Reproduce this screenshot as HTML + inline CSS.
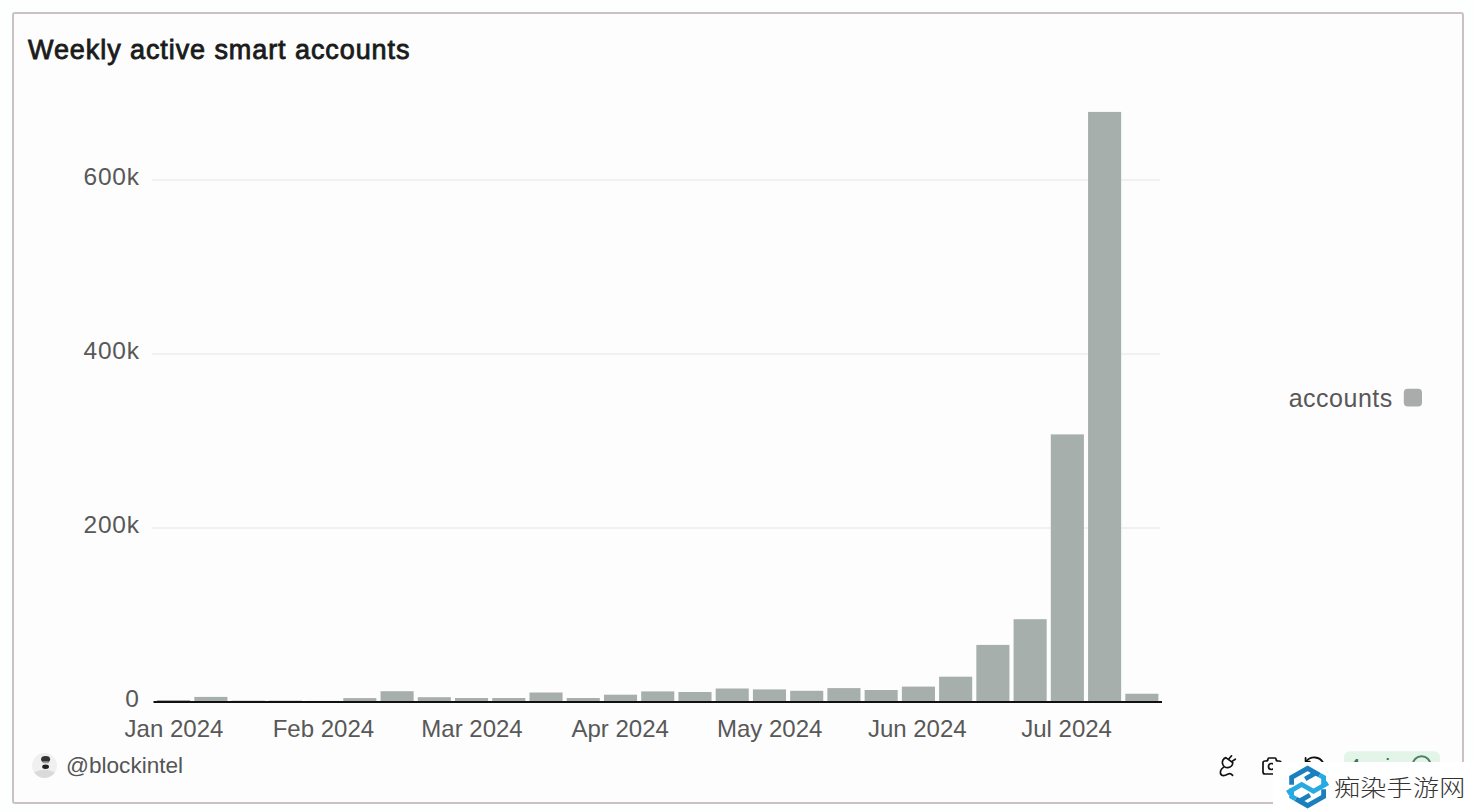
<!DOCTYPE html>
<html><head><meta charset="utf-8">
<style>
html,body{margin:0;padding:0;}
body{width:1474px;height:812px;overflow:hidden;background:#fdfefe;position:relative;font-family:"Liberation Sans",Arial,sans-serif;}
.panel{position:absolute;left:12px;top:12px;width:1448px;height:788px;border:2px solid #cbc0c6;border-radius:3px;background:#fdfdfd;}
.title{position:absolute;left:28px;top:33.5px;font-size:27px;font-weight:400;letter-spacing:0.92px;-webkit-text-stroke:0.85px #1b1b1b;color:#1b1b1b;white-space:nowrap;line-height:32px;}
svg{position:absolute;left:0;top:0;}
.handle{position:absolute;left:66px;top:752px;font-size:22.6px;color:#555;line-height:28px;white-space:nowrap;}
.wm{position:absolute;left:1273px;top:762px;width:201px;height:50px;background:#fff;}
.wmt{position:absolute;left:1334px;top:771.5px;transform:scaleY(0.88);transform-origin:0 0;font-family:"Liberation Sans","Noto Sans CJK SC",sans-serif;font-weight:300;letter-spacing:0.3px;font-size:26px;color:#333;line-height:37px;white-space:nowrap;}
</style></head><body>
<div class="panel"></div>
<div class="title">Weekly active smart accounts</div>
<svg width="1474" height="812" viewBox="0 0 1474 812">
  <g stroke="#f1f1f1" stroke-width="2">
    <line x1="152" y1="180" x2="1160" y2="180"/>
    <line x1="152" y1="354" x2="1160" y2="354"/>
    <line x1="152" y1="528" x2="1160" y2="528"/>
  </g>
  <g fill="#a7afac" id="bars">
    <rect x="157.10" y="700.00" width="33.1" height="2.00"/>
    <rect x="194.34" y="696.90" width="33.1" height="5.10"/>
    <rect x="231.58" y="700.60" width="33.1" height="1.40"/>
    <rect x="268.81" y="700.60" width="33.1" height="1.40"/>
    <rect x="306.05" y="700.90" width="33.1" height="1.10"/>
    <rect x="343.29" y="698.10" width="33.1" height="3.90"/>
    <rect x="380.53" y="691.20" width="33.1" height="10.80"/>
    <rect x="417.77" y="697.20" width="33.1" height="4.80"/>
    <rect x="455.00" y="698.00" width="33.1" height="4.00"/>
    <rect x="492.24" y="698.00" width="33.1" height="4.00"/>
    <rect x="529.48" y="692.50" width="33.1" height="9.50"/>
    <rect x="566.72" y="698.00" width="33.1" height="4.00"/>
    <rect x="603.96" y="694.70" width="33.1" height="7.30"/>
    <rect x="641.19" y="691.40" width="33.1" height="10.60"/>
    <rect x="678.43" y="692.00" width="33.1" height="10.00"/>
    <rect x="715.67" y="688.50" width="33.1" height="13.50"/>
    <rect x="752.91" y="689.40" width="33.1" height="12.60"/>
    <rect x="790.15" y="690.80" width="33.1" height="11.20"/>
    <rect x="827.38" y="688.10" width="33.1" height="13.90"/>
    <rect x="864.62" y="690.00" width="33.1" height="12.00"/>
    <rect x="901.86" y="686.60" width="33.1" height="15.40"/>
    <rect x="939.10" y="676.70" width="33.1" height="25.30"/>
    <rect x="976.34" y="644.90" width="33.1" height="57.10"/>
    <rect x="1013.57" y="619.20" width="33.1" height="82.80"/>
    <rect x="1050.81" y="434.40" width="33.1" height="267.60"/>
    <rect x="1088.05" y="111.90" width="33.1" height="590.10"/>
    <rect x="1125.29" y="693.75" width="33.1" height="8.25"/>
  </g>
  <line x1="153.5" y1="702" x2="1162" y2="702" stroke="#111" stroke-width="2"/>
  <g font-family="Liberation Sans, Arial, sans-serif" font-size="24.5" letter-spacing="0.8" fill="#585858" text-anchor="end">
    <text x="139.8" y="185.3">600k</text>
    <text x="139.8" y="359.3">400k</text>
    <text x="139.8" y="533.3">200k</text>
    <text x="139.8" y="707">0</text>
  </g>
  <g font-family="Liberation Sans, Arial, sans-serif" font-size="24" fill="#585858" text-anchor="middle">
    <text x="174" y="737">Jan 2024</text>
    <text x="323.4" y="737">Feb 2024</text>
    <text x="472" y="737">Mar 2024</text>
    <text x="620.2" y="737">Apr 2024</text>
    <text x="769.7" y="737">May 2024</text>
    <text x="917.3" y="737">Jun 2024</text>
    <text x="1066.6" y="737">Jul 2024</text>
  </g>
  <text x="1288.7" y="407" font-family="Liberation Sans, Arial, sans-serif" font-size="25" letter-spacing="0.5" fill="#585858">accounts</text>
  <rect x="1403.8" y="388.8" width="18.2" height="17.6" rx="4" fill="#a9acab"/>
  <!-- avatar -->
  <circle cx="44.5" cy="765.5" r="12.5" fill="#f0f0f0"/>
  <clipPath id="av"><circle cx="44.5" cy="765.5" r="12.5"/></clipPath>
  <path d="M33 773 Q44.5 766 56 773 L56 779 L33 779 Z" fill="#dadada" clip-path="url(#av)"/>
  <ellipse cx="45.6" cy="759.2" rx="4.5" ry="3.3" fill="#333"/>
  <rect x="42.5" y="761.3" width="6.5" height="2" rx="1" fill="#9a9a9a"/>
  <ellipse cx="45.6" cy="766.8" rx="3.4" ry="2.2" fill="#1f1f1f"/>
  <!-- plug icon -->
  <g fill="none" stroke="#111" stroke-width="1.7" stroke-linecap="round" stroke-linejoin="round">
    <path d="M1225.8 757.6 L1232.8 762.6 A5.2 5.2 0 1 1 1225.8 757.6 Z"/>
    <path d="M1228.8 759 L1231.6 755.8"/>
    <path d="M1231.6 761.6 L1235.3 759.2"/>
    <path d="M1223.4 767.4 C1220.3 769.5 1219.4 773.2 1221.5 775 C1223.6 776.6 1226.2 775 1228.2 774 C1230 773.2 1231.4 774 1232.6 775.4"/>
  </g>
  <!-- camera icon -->
  <g fill="none" stroke="#111" stroke-width="1.7" stroke-linecap="round" stroke-linejoin="round">
    <path d="M1265 761h1a2 2 0 0 0 2 -2a1 1 0 0 1 1 -1h6a1 1 0 0 1 1 1a2 2 0 0 0 2 2h1a2 2 0 0 1 2 2v9a2 2 0 0 1 -2 2h-14a2 2 0 0 1 -2 -2v-9a2 2 0 0 1 2 -2"/>
    <circle cx="1271.5" cy="766.5" r="3"/>
  </g>
  <!-- refresh icon -->
  <g fill="none" stroke="#111" stroke-width="1.8" stroke-linecap="round" stroke-linejoin="round">
    <path d="M1323 762.5 A10.2 10.2 0 0 0 1306.5 761"/>
    <path d="M1305.6 757.8 V761.6 H1309.8"/>
  </g>
  <!-- badge -->
  <rect x="1344" y="751.3" width="96" height="32" rx="6" fill="#e3f5e9"/>
  <text x="1348.5" y="774.3" font-family="Liberation Sans, Arial, sans-serif" font-size="22" fill="#3f7356">4 min</text>
  <circle cx="1421.6" cy="765" r="8.8" fill="none" stroke="#4f7f64" stroke-width="2"/>
</svg>
<div class="handle">@blockintel</div>
<div class="wm"></div>
<svg width="1474" height="812" viewBox="0 0 1474 812" style="pointer-events:none">
  <g fill="none" stroke-width="4.8" stroke-linejoin="miter" stroke-linecap="butt">
    <polyline points="1291.6,784.8 1291.6,777.5 1307.6,768.3 1319.5,775.2" stroke="#1a80bd"/>
    <polyline points="1305.2,779 1316.6,772.4" stroke="#1a80bd"/>
    <polyline points="1323.6,789.2 1323.6,796.5 1307.6,805.7 1295.7,798.8" stroke="#1a80bd"/>
    <polyline points="1310,795 1298.6,801.6" stroke="#1a80bd"/>
    <polyline points="1319.5,775.2 1323.6,777.5 1323.6,785.5" stroke="#27a9e1"/>
    <polyline points="1327.9,783 1313.5,791.3 1301.7,784.5 1287.3,792.8" stroke="#27a9e1"/>
    <polyline points="1291.6,788.5 1291.6,796.5 1295.7,798.8" stroke="#27a9e1"/>
  </g>
</svg>
<div class="wmt">痴染手游网</div>
</body></html>
